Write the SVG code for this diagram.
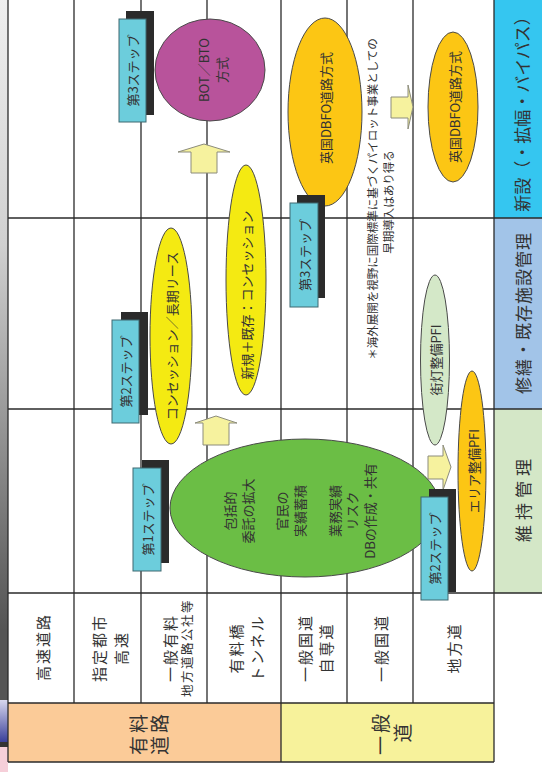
<svg xmlns="http://www.w3.org/2000/svg" width="542" height="772" viewBox="0 0 542 772">
<style>
text{font-family:"Noto Sans CJK JP","Noto Sans",sans-serif;fill:#333;text-anchor:middle;dominant-baseline:central}
.grid line{stroke:#2a2a2a;stroke-width:1.3}
.step{fill:#6CCDDC;stroke:#3e6870;stroke-width:1}
.shadow{fill:#2b2b2b}
.ell{stroke:#4a4a4a;stroke-width:1}
.arrow{fill:#F6F29E;stroke:#8c8c7c;stroke-width:1}
.lbl{font-size:15px;letter-spacing:2px}
.sm{font-size:13px}
.band{font-size:17px}
</style>
<defs>
<linearGradient id="edge" x1="0" y1="0" x2="0" y2="1">
<stop offset="0" stop-color="#efefef"/>
<stop offset="0.35" stop-color="#d0d0d0"/>
<stop offset="0.8" stop-color="#6a6a6a"/>
<stop offset="0.9" stop-color="#555"/>
</linearGradient>
<linearGradient id="edgeb" x1="0" y1="0" x2="0" y2="1">
<stop offset="0" stop-color="#d8d8ee"/>
<stop offset="1" stop-color="#3a3f9a"/>
</linearGradient>
</defs>
<rect width="542" height="772" fill="#fff"/>
<g id="edge-strip">
<rect x="0" y="0" width="8" height="700" fill="url(#edge)"/>
<rect x="0" y="700" width="8" height="42" fill="url(#edgeb)"/>
<rect x="0" y="742" width="8" height="5" fill="#333"/>
<rect x="0" y="747" width="8" height="25" fill="#f6cfd9"/>
</g>
<g id="bands">
<rect x="8" y="703" width="273" height="59" fill="#FBCB98"/>
<rect x="281" y="703" width="213" height="59" fill="#F7F29B"/>
<rect x="494" y="0" width="48" height="218" fill="#35C6F0"/>
<rect x="494" y="218" width="48" height="191" fill="#A2C4E8"/>
<rect x="494" y="409" width="48" height="184" fill="#D4E7C7"/>
</g>
<g class="grid" id="grid">
<line x1="8" y1="0" x2="8" y2="762"/>
<line x1="74" y1="0" x2="74" y2="703"/>
<line x1="141" y1="0" x2="141" y2="703"/>
<line x1="207" y1="0" x2="207" y2="703"/>
<line x1="281" y1="0" x2="281" y2="762"/>
<line x1="347" y1="0" x2="347" y2="703"/>
<line x1="413" y1="0" x2="413" y2="703"/>
<line x1="494" y1="0" x2="494" y2="762"/>
<line x1="8" y1="218" x2="542" y2="218"/>
<line x1="8" y1="409" x2="542" y2="409"/>
<line x1="8" y1="593" x2="542" y2="593"/>
<line x1="8" y1="703" x2="494" y2="703"/>
<line x1="8" y1="762" x2="494" y2="762"/>
</g>
<g id="row-labels">
<text class="lbl" transform="rotate(-90 42 647)" x="42" y="647">高速道路</text>
<text class="lbl" transform="rotate(-90 98 648)" x="98" y="648">指定都市</text>
<text class="lbl" transform="rotate(-90 120 648)" x="120" y="648">高速</text>
<text class="lbl" transform="rotate(-90 169 648)" x="169" y="648">一般有料</text>
<text transform="rotate(-90 186 648)" x="186" y="648" style="font-size:12.5px;letter-spacing:1.5px">地方道路公社等</text>
<text class="lbl" transform="rotate(-90 235 648)" x="235" y="648">有料橋</text>
<text class="lbl" transform="rotate(-90 256 648)" x="256" y="648">トンネル</text>
<text class="lbl" transform="rotate(-90 304 648)" x="304" y="648">一般国道</text>
<text class="lbl" transform="rotate(-90 325 648)" x="325" y="648">自専道</text>
<text class="lbl" transform="rotate(-90 380 648)" x="380" y="648">一般国道</text>
<text class="lbl" transform="rotate(-90 453 648)" x="453" y="648">地方道</text>
</g>
<g id="category-labels">
<text transform="rotate(-90 137 733)" x="137" y="733" style="font-size:19px;letter-spacing:3px">有料</text>
<text transform="rotate(-90 158 733)" x="158" y="733" style="font-size:19px;letter-spacing:3px">道路</text>
<text transform="rotate(-90 379 733)" x="379" y="733" style="font-size:19px;letter-spacing:3px">一般</text>
<text transform="rotate(-90 401 733)" x="401" y="733" style="font-size:19px">道</text>
<text class="band" transform="rotate(-90 521 110)" x="521" y="110">新設（・拡幅・バイパス）</text>
<text class="band" transform="rotate(-90 522 313)" x="522" y="313" style="letter-spacing:1px">修繕・既存施設管理</text>
<text class="band" transform="rotate(-90 522 498)" x="522" y="498" style="letter-spacing:5px">維持管理</text>
</g>
<g id="connectors">
<polygon class="arrow" points="204,144 230,152 217,152 217,173 191,173 191,152 178,152"/>
<polygon class="arrow" points="216,416 237,423 229,423 229,445 203,445 203,423 195,423"/>
<polygon class="arrow" points="391,97 408,97 408,85 413,107 408,129 408,118 391,118"/>
<polygon class="arrow" points="428,456 443,456 443,445 451,467 443,490 443,479 428,479"/>
</g>
<g id="step3-top">
<rect class="shadow" x="126" y="11" width="28" height="104"/>
<rect class="step" x="119" y="19" width="27" height="103"/>
<text class="sm" transform="rotate(-90 132.5 70.5)" x="132.5" y="70.5">第3ステップ</text>
</g>
<g id="bot-bto">
<ellipse class="ell" cx="210" cy="70" rx="55" ry="51" fill="#B8539B"/>
<text class="sm" transform="rotate(-90 203 70)" x="203" y="70">BOT／BTO</text>
<text class="sm" transform="rotate(-90 221 70)" x="221" y="70">方式</text>
</g>
<g id="dbfo-left">
<ellipse class="ell" cx="325" cy="112" rx="37" ry="94" fill="#FCC614"/>
<text class="sm" transform="rotate(-90 325 108)" x="325" y="108">英国DBFO道路方式</text>
</g>
<g id="note">
<text transform="rotate(-90 372 199)" x="372" y="199" style="font-size:11.5px">＊海外展開を視野に国際標準に基づくパイロット事業としての</text>
<text transform="rotate(-90 388 202)" x="388" y="202" style="font-size:11.5px">早期導入はあり得る</text>
</g>
<g id="dbfo-right">
<ellipse class="ell" cx="453" cy="107" rx="25" ry="75" fill="#FCC614"/>
<text class="sm" transform="rotate(-90 454 107)" x="454" y="107">英国DBFO道路方式</text>
</g>
<g id="step2-top">
<rect class="shadow" x="121" y="312" width="27" height="103"/>
<rect class="step" x="112" y="320" width="27" height="103"/>
<text class="sm" transform="rotate(-90 125.5 371.5)" x="125.5" y="371.5">第2ステップ</text>
</g>
<g id="concession-lease">
<ellipse class="ell" cx="171" cy="336" rx="21" ry="108" fill="#F4EA12"/>
<text class="sm" transform="rotate(-90 171 336)" x="171" y="336">コンセッション／長期リース</text>
</g>
<g id="new-existing">
<ellipse class="ell" cx="246" cy="280" rx="20" ry="115" fill="#F4EA12"/>
<text class="sm" transform="rotate(-90 246 295)" x="246" y="295">新規＋既存：コンセッション</text>
</g>
<g id="step3-mid">
<rect class="shadow" x="297" y="195" width="28" height="103"/>
<rect class="step" x="290" y="203" width="28" height="104"/>
<text class="sm" transform="rotate(-90 304 255)" x="304" y="255">第3ステップ</text>
</g>
<g id="step1">
<rect class="shadow" x="142" y="460" width="27" height="103"/>
<rect class="step" x="133" y="468" width="28" height="103"/>
<text class="sm" transform="rotate(-90 147 519.5)" x="147" y="519.5">第1ステップ</text>
</g>
<g id="comprehensive">
<ellipse class="ell" cx="305" cy="508" rx="135" ry="69" fill="#6BBE45"/>
<text class="sm" transform="rotate(-90 229 511)" x="229" y="511">包括的</text>
<text class="sm" transform="rotate(-90 247 511)" x="247" y="511">委託の拡大</text>
<text class="sm" transform="rotate(-90 281 511)" x="281" y="511">官民の</text>
<text class="sm" transform="rotate(-90 299 511)" x="299" y="511">実績蓄積</text>
<text class="sm" transform="rotate(-90 334 511)" x="334" y="511">業務実績</text>
<text class="sm" transform="rotate(-90 351 511)" x="351" y="511">リスク</text>
<text class="sm" transform="rotate(-90 369 511)" x="369" y="511">DBの作成・共有</text>
</g>
<g id="streetlight-pfi">
<ellipse class="ell" cx="435" cy="360" rx="14.5" ry="85" fill="#D4E8C8"/>
<text class="sm" transform="rotate(-90 435 360)" x="435" y="360">街灯整備PFI</text>
</g>
<g id="area-pfi">
<ellipse class="ell" cx="472" cy="471" rx="14" ry="100" fill="#FCC614"/>
<text class="sm" transform="rotate(-90 473 471)" x="473" y="471">エリア整備PFI</text>
</g>
<g id="step2-low">
<rect class="shadow" x="429" y="489" width="27" height="103"/>
<rect class="step" x="421" y="497" width="27" height="103"/>
<text class="sm" transform="rotate(-90 434.5 548.5)" x="434.5" y="548.5">第2ステップ</text>
</g>
</svg>
